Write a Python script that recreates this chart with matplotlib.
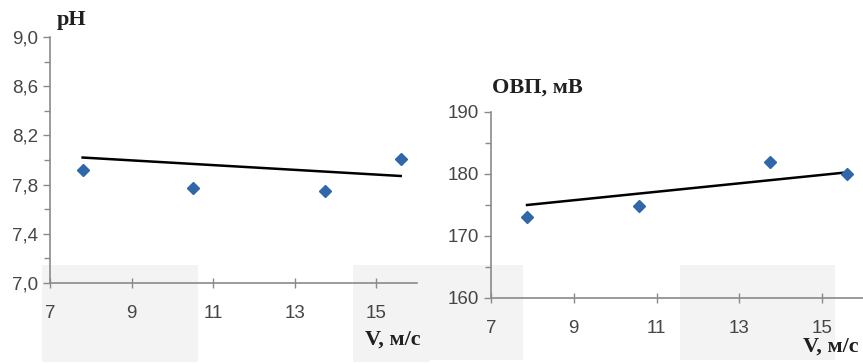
import matplotlib
matplotlib.use("Agg")
import matplotlib.pyplot as plt
from matplotlib.patches import Rectangle
from matplotlib.ticker import MultipleLocator

# ---- data ----
v_ph = [7.8, 10.5, 13.75, 15.6]
ph = [7.92, 7.77, 7.75, 8.01]
ph_trend_x = [7.8, 15.6]
ph_trend_y = [8.02, 7.87]

v_orp = [7.87, 10.57, 13.74, 15.6]
orp = [173.1, 174.8, 181.9, 180.0]
orp_trend_x = [7.87, 15.5]
orp_trend_y = [175.0, 180.2]

ph_ticks = [7.0, 7.4, 7.8, 8.2, 8.6, 9.0]
orp_ticks = [160, 170, 180, 190]
x_ticks = [7, 9, 11, 13, 15]

W, H = 863, 364
fig = plt.figure(figsize=(W / 100, H / 100), dpi=100)
fig.patch.set_facecolor("white")

# faint grey background patches (image artefacts)
for (x0, y0, x1, y1) in [(42, 265, 198, 362), (353, 265, 430, 362),
                         (430, 265, 523, 360), (680, 265, 835, 360)]:
    fig.patches.append(Rectangle((x0 / W, 1 - y1 / H), (x1 - x0) / W, (y1 - y0) / H,
                                 transform=fig.transFigure, facecolor="#f3f3f3",
                                 edgecolor="none", zorder=-10))

tick_font = dict(family="Liberation Sans", size=13.5, color="#454545")
label_font = dict(family="Liberation Serif", weight="bold", size=16, color="#202020")
marker_color = "#2f67a8"
axis_color = "#8a8a8a"


def style(ax):
    ax.patch.set_alpha(0)
    for s in ["top", "right"]:
        ax.spines[s].set_visible(False)
    for s in ["left", "bottom"]:
        ax.spines[s].set_color(axis_color)
        ax.spines[s].set_linewidth(1.2)
    ax.tick_params(which="both", color=axis_color, width=1.0)
    ax.tick_params(axis="y", which="major", direction="out", length=5)
    ax.tick_params(axis="y", which="minor", direction="out", length=4)
    ax.tick_params(axis="x", which="major", direction="inout", length=7, pad=12)
    ax.set_xlim(7, 16)
    ax.set_xticks(x_ticks)
    ax.set_xticklabels([str(t) for t in x_ticks], **tick_font)


# ---- left: pH ----
ax1 = fig.add_axes([50 / W, 1 - 283 / H, 367 / W, 246 / H], zorder=1)
ax1.plot(ph_trend_x, ph_trend_y, color="black", lw=1.8, zorder=2)
ax1.plot(v_ph, ph, linestyle="none", marker="D", ms=6.5, color=marker_color,
         markeredgecolor=marker_color, zorder=3)
ax1.set_ylim(7.0, 9.0)
ax1.set_yticks(ph_ticks)
ax1.yaxis.set_minor_locator(MultipleLocator(0.2))
style(ax1)
ax1.set_yticklabels([f"{t:.1f}".replace(".", ",") for t in ph_ticks], **tick_font)

# ---- right: ORP ----
ax2 = fig.add_axes([491 / W, 1 - 298 / H, 372.6 / W, 186 / H], zorder=1)
ax2.plot(orp_trend_x, orp_trend_y, color="black", lw=1.8, zorder=2)
ax2.plot(v_orp, orp, linestyle="none", marker="D", ms=6.5, color=marker_color,
         markeredgecolor=marker_color, zorder=3)
ax2.set_ylim(160, 190)
ax2.set_yticks(orp_ticks)
ax2.yaxis.set_minor_locator(MultipleLocator(5))
style(ax2)
ax2.set_yticklabels([str(t) for t in orp_ticks], **tick_font)

# ---- axis titles ----
fig.text(57 / W, 1 - 20 / H, "pH", ha="left", va="center", **label_font)
fig.text(421 / W, 1 - 340 / H, "V, м/с", ha="right", va="center", **label_font)
fig.text(492 / W, 1 - 88 / H, "ОВП, мВ", ha="left", va="center", **label_font)
fig.text(859 / W, 1 - 347 / H, "V, м/с", ha="right", va="center", **label_font)

fig.savefig("out.png", dpi=100, facecolor="white")
